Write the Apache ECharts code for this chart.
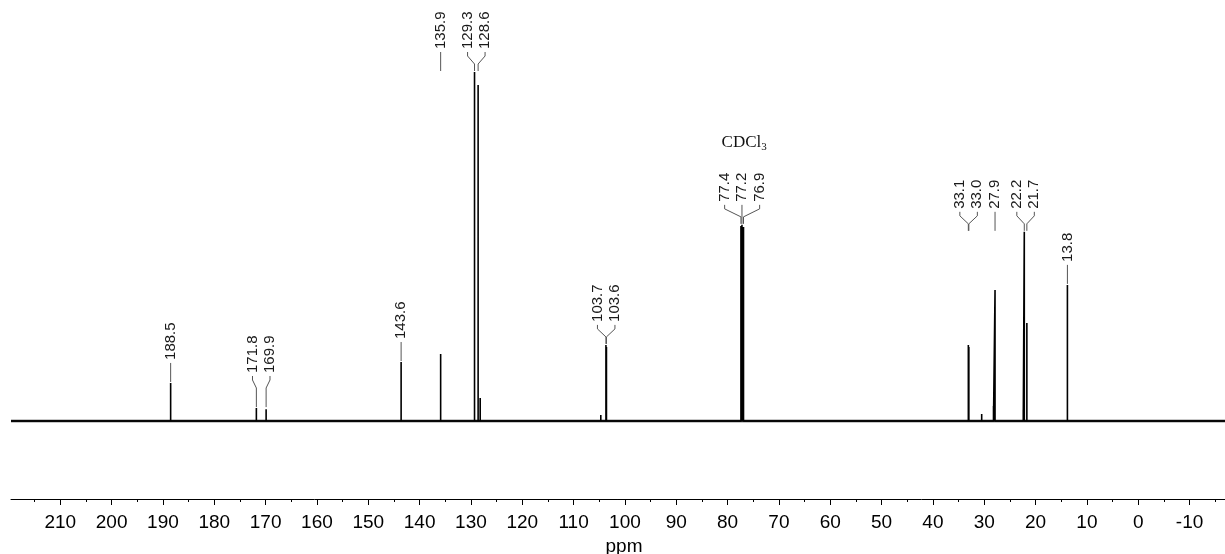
<!DOCTYPE html>
<html><head><meta charset="utf-8">
<script src="https://cdn.jsdelivr.net/npm/echarts@6/dist/echarts.min.js"></script>
<style>html,body{margin:0;padding:0;background:#fff}#c{width:1225px;height:554px}</style>
</head><body><div id="c"></div>
<script>
// ---- data ----
const peakPpm       = [188.5, 171.8, 169.9, 143.6, 135.9, 129.3, 128.6, 128.2, 104.7, 103.7, 103.6, 77.4, 77.2, 76.9, 33.1, 33.0, 30.5, 28.2, 27.9, 22.4, 22.2, 21.7, 13.8];
const peakIntensity = [10.9,  3.7,   3.4,   16.9,  19.2,  100,   96.3,  6.6,   1.7,   21.8,  21.2,  55.9, 56.2, 55.6, 21.8, 21.2, 2.0,  4.3,  37.5, 3.2,  54.2, 28.1, 39.0];
const labelGroups = [
  ["188.5"],
  ["171.8", "169.9"],
  ["143.6"],
  ["135.9", "129.3", "128.6"],
  ["103.7", "103.6"],
  ["77.4", "77.2", "76.9"],
  ["33.1", "33.0", "27.9", "22.2", "21.7"],
  ["13.8"]
];
const solventMain = "CDCl";
const solventSub = "3";
const solventGroupIndex = 5;
const majorTicks = [210, 200, 190, 180, 170, 160, 150, 140, 130, 120, 110, 100, 90, 80, 70, 60, 50, 40, 30, 20, 10, 0, -10];
const minorTicks = [215, 205, 195, 185, 175, 165, 155, 145, 135, 125, 115, 105, 95, 85, 75, 65, 55, 45, 35, 25, 15, 5, -5, -15];
const axisMin = -16.9, axisMax = 219.6;

// ---- build spectrum polyline from the peak list ----
function buildSpectrum() {
  const pts = [[axisMax, 0]];
  const order = peakPpm.map((p, i) => i).sort((a, b) => peakPpm[b] - peakPpm[a]);
  order.forEach(i => { pts.push([peakPpm[i], 0], [peakPpm[i], peakIntensity[i]], [peakPpm[i], 0]); });
  pts.push([axisMin, 0]);
  return pts;
}

function spread(anchors, S) {
  let clusters = anchors.map((a, i) => ({ idx: [i], sum: a }));
  const pos = c => { const n = c.idx.length, ctr = c.sum / n; return c.idx.map((_, k) => ctr + (k - (n - 1) / 2) * S); };
  let changed = true;
  while (changed) {
    changed = false;
    for (let i = 0; i < clusters.length - 1; i++) {
      const a = pos(clusters[i]), b = pos(clusters[i + 1]);
      if (a[a.length - 1] + S > b[0] + 0.01) {
        clusters[i] = { idx: clusters[i].idx.concat(clusters[i + 1].idx), sum: clusters[i].sum + clusters[i + 1].sum };
        clusters.splice(i + 1, 1); changed = true; break;
      }
    }
  }
  const out = [];
  clusters.forEach(c => pos(c).forEach((x, k) => { out[c.idx[k]] = x; }));
  return out;
}

function renderLabels(params, api) {
  const children = [];
  const baseY = api.coord([0, 0])[1];
  labelGroups.forEach((grp, gi) => {
    const items = grp.map(s => {
      const v = parseFloat(s);
      const idx = peakPpm.findIndex(p => Math.abs(p - v) < 1e-6);
      return { text: s, px: api.coord([v, 0])[0], top: api.coord([v, peakIntensity[idx]])[1] };
    });
    const gTop = Math.min.apply(null, items.map(d => d.top));
    const T = Math.min(gTop - 23, baseY - 48);
    const xs = spread(items.map(d => d.px), 17.5);
    items.forEach((d, k) => {
      const lx = xs[k];
      let pts;
      if (Math.abs(lx - d.px) < 0.8) pts = [[d.px, T + 3], [d.px, gTop - 1]];
      else pts = [[lx, T + 3], [lx, T + 7], [d.px, T + 15], [d.px, gTop - 1]];
      children.push({ type: 'polyline', shape: { points: pts }, style: { stroke: '#555', lineWidth: 1, fill: null } });
      children.push({ type: 'text', x: lx, y: T, rotation: Math.PI / 2,
        style: { text: d.text, x: 0, y: 0, align: 'left', verticalAlign: 'middle', fontSize: 15,
                 fontFamily: 'Liberation Sans, Arial, sans-serif', fill: '#1a1a1a' } });
    });
    if (gi === solventGroupIndex) {
      const cx = items.reduce((s, d) => s + d.px, 0) / items.length;
      children.push({ type: 'text', x: cx + 2, y: T - 59,
        style: { text: '{a|' + solventMain + '}{b|' + solventSub + '}', align: 'center', verticalAlign: 'middle',
          rich: { a: { fontSize: 17, lineHeight: 20, fontFamily: 'Liberation Serif, Times New Roman, serif', fill: '#111' },
                  b: { fontSize: 11, lineHeight: 11, verticalAlign: 'bottom', fontFamily: 'Liberation Serif, Times New Roman, serif', fill: '#111' } } } });
    }
  });
  return { type: 'group', children };
}

const chart = echarts.init(document.getElementById('c'), null, { renderer: 'canvas' });
const fontSans = 'Liberation Sans, Arial, sans-serif';
chart.setOption({
  animation: false,
  backgroundColor: '#fff',
  grid: { left: 11, right: 0, top: 72, bottom: 55, containLabel: false, outerBoundsMode: 'none' },
  xAxis: [
    { type: 'value', inverse: true, min: axisMin, max: axisMax, position: 'bottom',
      name: 'ppm', nameLocation: 'middle', nameGap: 25,
      nameTextStyle: { fontSize: 19, fontFamily: fontSans, color: '#000', padding: [0, 0, 0, 12] },
      axisLine: { show: true, onZero: false, lineStyle: { color: '#000', width: 1 } },
      axisTick: { show: true, customValues: majorTicks, length: 6, lineStyle: { color: '#000' } },
      axisLabel: { show: true, customValues: majorTicks, margin: 14, fontSize: 19, fontFamily: fontSans, color: '#000' },
      splitLine: { show: false } },
    { type: 'value', inverse: true, min: axisMin, max: axisMax, position: 'bottom', gridIndex: 0,
      axisLine: { show: false, onZero: false },
      axisTick: { show: true, customValues: minorTicks, length: 3, lineStyle: { color: '#000' } },
      axisLabel: { show: false }, splitLine: { show: false } }
  ],
  yAxis: { type: 'value', show: false, min: -22.35, max: 100, splitLine: { show: false } },
  series: [
    { type: 'line', xAxisIndex: 0, data: [[axisMax, 0], [axisMin, 0]], showSymbol: false, silent: true,
      lineStyle: { color: '#222', width: 2.5 } },
    { type: 'line', xAxisIndex: 0, data: buildSpectrum(), showSymbol: false, silent: true,
      lineStyle: { color: '#000', width: 1.6 } },
    { type: 'custom', xAxisIndex: 0, data: [[0, 0]], renderItem: renderLabels, clip: false, silent: true, z: 5 }
  ]
});
</script></body></html>
